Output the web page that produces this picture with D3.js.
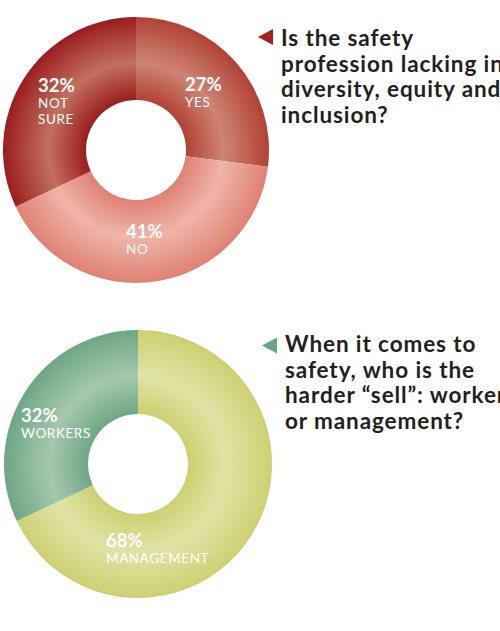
<!DOCTYPE html>
<html>
<head>
<meta charset="utf-8">
<script src="https://cdn.jsdelivr.net/npm/d3@7"></script>
<style>
    body { margin: 0; background: #fff; }
    svg { display: block; }
    .pct { font-family: Lato, sans-serif; font-weight: 700; fill: #fff; }
    .cat { font-family: Lato, sans-serif; font-weight: 400; fill: #fff; letter-spacing: 0.6px; }
    .title { font-family: Lato, sans-serif; font-weight: 700; fill: #231f20; letter-spacing: 0.9px; }
</style>
</head>
<body>
<svg id="chart"></svg>
<script>
// Question 1
const q1Title = ['Is the safety', 'profession lacking in', 'diversity, equity and', 'inclusion?'];
const q1Categories = ['YES', 'NO', 'NOT SURE'];
const q1Values = [27, 41, 32];

// Question 2
const q2Title = ['When it comes to', 'safety, who is the', 'harder \u201csell\u201d: workers', 'or management?'];
const q2Categories = ['MANAGEMENT', 'WORKERS'];
const q2Values = [68, 32];

class Donut {

    constructor(_config, _categories, _values, _title)
    {
        this.config =
        {
            parent: _config.parent,
            id: _config.id,
            cx: _config.cx,
            cy: _config.cy,
            outer: _config.outer || 133,
            inner: _config.inner || 50,
            colors: _config.colors,
            labelPos: _config.labelPos,
            titleX: _config.titleX,
            titleY: _config.titleY,
            arrow: _config.arrow
        }

        this.categories = _categories;
        this.values = _values;
        this.title = _title;
        this.initVis();
    }

    initVis()
    {
        let vis = this;

        vis.g = vis.config.parent.append('g')
            .attr('transform', `translate(${vis.config.cx},${vis.config.cy})`);

        // radial gradients: lighter band in the middle of the ring
        const defs = vis.config.parent.select('defs');
        const r0 = vis.config.inner / vis.config.outer;
        vis.config.colors.forEach((c, i) => {
            const grad = defs.append('radialGradient')
                .attr('id', `${vis.config.id}-g${i}`)
                .attr('gradientUnits', 'userSpaceOnUse')
                .attr('cx', 0).attr('cy', 0).attr('r', vis.config.outer);
            grad.append('stop').attr('offset', r0).attr('stop-color', c[0]);
            grad.append('stop').attr('offset', r0 + (1 - r0) * 0.45).attr('stop-color', c[1]);
            grad.append('stop').attr('offset', 1).attr('stop-color', c[0]);
        });

        const pie = d3.pie().sort(null).value(d => d);
        vis.arcs = pie(vis.values);

        const arc = d3.arc()
            .innerRadius(vis.config.inner)
            .outerRadius(vis.config.outer);

        vis.g.selectAll('path')
            .data(vis.arcs)
            .join('path')
            .attr('d', arc)
            .attr('fill', (d, i) => `url(#${vis.config.id}-g${i})`);

        // labels
        const lab = vis.g.selectAll('g.lab')
            .data(vis.arcs)
            .join('g')
            .attr('class', 'lab')
            .attr('transform', (d, i) => `translate(${vis.config.labelPos[i][0]},${vis.config.labelPos[i][1]})`);

        lab.append('text')
            .attr('class', 'pct')
            .attr('font-size', 18.5)
            .text(d => d.value + '%');

        lab.each(function(d, i) {
            const words = vis.categories[i] === 'NOT SURE' ? ['NOT', 'SURE'] : [vis.categories[i]];
            words.forEach((w, j) => {
                d3.select(this).append('text')
                    .attr('class', 'cat')
                    .attr('font-size', 13.5)
                    .attr('y', 16 * (j + 1))
                    .text(w);
            });
        });

        // arrow + title
        const a = vis.config.arrow;
        vis.config.parent.append('path')
            .attr('d', `M${a.x},${a.y} L${a.x + 15},${a.y - 8} L${a.x + 15},${a.y + 8} Z`)
            .attr('fill', a.color);

        vis.config.parent.append('g')
            .selectAll('text')
            .data(vis.title)
            .join('text')
            .attr('class', 'title')
            .attr('font-size', 22.5)
            .attr('x', vis.config.titleX)
            .attr('y', (d, i) => vis.config.titleY + i * 25.7)
            .text(d => d);
    }
}

const svg = d3.select('#chart')
    .attr('width', 500)
    .attr('height', 631);
svg.append('defs');

new Donut({
    parent: svg, id: 'q1', cx: 136, cy: 150,
    colors: [['#b14235', '#cd8475'], ['#df8174', '#efb5a8'], ['#9b1d1f', '#c2705f']],
    labelPos: [[49, -59], [-10, 88], [-98, -58]],
    titleX: 281, titleY: 46,
    arrow: { x: 258, y: 37, color: '#a51e22' }
}, q1Categories, q1Values, q1Title);

new Donut({
    parent: svg, id: 'q2', cx: 138, cy: 464, outer: 134,
    colors: [['#cdd071', '#e1e3a6'], ['#6ea686', '#a5c8af']],
    labelPos: [[-32, 83], [-117, -42]],
    titleX: 285, titleY: 352,
    arrow: { x: 262, y: 345.5, color: '#6aa582' }
}, q2Categories, q2Values, q2Title);
</script>
</body>
</html>
